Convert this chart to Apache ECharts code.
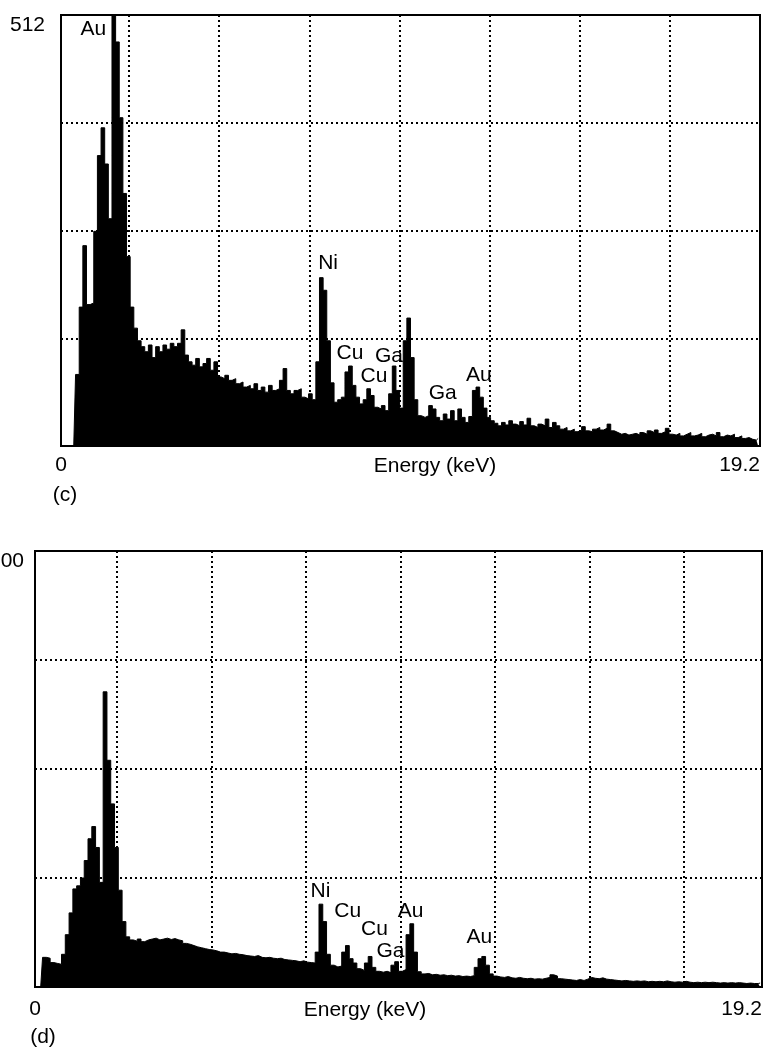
<!DOCTYPE html>
<html><head><meta charset="utf-8">
<script src="https://cdn.jsdelivr.net/npm/echarts@6/dist/echarts.min.js"></script>
<style>html,body{margin:0;padding:0;background:#fff}#c{width:770px;height:1047px}</style>
</head><body><div id="c"></div>
<script>
// ---- data ----
const BIN_KEV = 0.1;           // channel width of the spectra
const E_MAX = 19.2;            // full energy scale (keV)
const xTickLabels = ['0', '19.2'];
const xAxisTitle = 'Energy (keV)';
const panelTags = ['(c)', '(d)'];
const yMaxC = 512;
const yMaxD = 1000;

// counts per 0.1 keV channel, panel (c)
const countsC = [
  0,0,0,0,85,165,238,168,170,255,
  345,378,335,270,512,480,390,300,225,165,
  140,125,118,112,120,105,118,112,120,115,
  122,118,122,138,108,100,96,104,94,98,
  104,90,100,82,80,84,78,80,74,76,
  70,72,68,74,66,70,64,72,66,68,
  78,92,66,62,66,68,58,56,62,55,
  100,200,185,125,75,52,55,58,88,95,
  72,58,50,55,68,60,46,44,48,42,
  62,95,66,45,125,152,105,55,36,34,
  36,48,44,34,30,38,32,42,30,44,
  34,28,35,66,70,58,45,34,30,27,
  24,28,25,30,26,24,29,25,33,24,
  22,26,24,32,22,28,24,20,22,18,
  20,17,19,23,18,17,20,22,19,21,
  26,18,16,14,15,13,14,15,13,16,
  14,18,16,19,15,17,21,14,13,15,
  12,14,16,12,13,15,11,13,14,12,
  16,11,13,12,14,10,12,9,10,8,
  7,9
];

// counts per 0.1 keV channel, panel (d)
const countsD = [
  0,0,68,66,56,54,52,75,120,170,
  225,232,250,290,340,368,320,240,677,520,
  420,320,222,150,115,108,105,110,104,108,
  110,112,108,110,112,109,111,108,106,100,
  98,95,92,90,88,86,85,83,80,80,
  78,76,77,75,74,72,71,70,72,68,
  67,68,66,65,66,63,62,61,60,58,
  60,57,56,55,80,190,150,75,50,46,
  48,80,95,65,55,42,38,55,70,45,
  36,34,36,33,50,58,36,40,120,145,
  80,35,30,31,28,29,27,28,26,27,
  25,26,24,25,24,26,45,65,70,50,
  30,25,23,22,24,21,20,22,20,19,
  20,18,19,18,20,22,28,25,19,18,
  17,16,15,17,15,18,22,20,19,21,
  18,17,16,15,14,15,14,13,14,13,
  14,12,13,12,13,12,14,12,11,12,
  11,13,11,10,11,10,11,10,11,10,
  9,10,9,10,9,10,9,8,9,8,
  8,9
];

// peak labels: [text, energy keV, counts]
const peakLabelsC = [
  ['Au', 0.905, 494], ['Ni', 7.35, 217], ['Cu', 7.95, 110], ['Ga', 9.02, 106],
  ['Cu', 8.61, 82], ['Ga', 10.50, 62], ['Au', 11.49, 83]
];
const peakLabelsD = [
  ['Ni', 7.55, 218], ['Cu', 8.27, 172], ['Cu', 8.98, 131], ['Ga', 9.40, 80],
  ['Au', 9.93, 172], ['Au', 11.75, 112]
];

// ---- chart ----
const FONT = '"Liberation Sans", Arial, Helvetica, sans-serif';
const dotted = { color: '#000', width: 2, type: [2, 3] };
const toPairs = arr => arr.map((v, i) => [(i + 0.5) * BIN_KEV, v]);
const toLabels = arr => arr.map(([t, e, c]) => ({ name: t, value: [e, c] }));

function mainX(grid, margin) {
  return {
    gridIndex: grid, type: 'value', min: 0, max: E_MAX, interval: E_MAX,
    axisLine: { show: false }, axisTick: { show: false }, splitLine: { show: false },
    axisLabel: {
      margin: margin, fontSize: 21, color: '#000', fontFamily: FONT,
      alignMinLabel: 'center', alignMaxLabel: 'right',
      formatter: v => v === 0 ? xTickLabels[0] : (Math.abs(v - E_MAX) < 1e-6 ? xTickLabels[1] : '')
    }
  };
}
function gridX(grid, maxUnits) {
  return {
    gridIndex: grid, type: 'value', min: 0, max: maxUnits, interval: 1,
    axisLine: { show: false }, axisTick: { show: false }, axisLabel: { show: false },
    splitLine: { show: true, showMinLine: false, showMaxLine: false, lineStyle: dotted }
  };
}
function mainY(grid, yMax, margin) {
  return {
    gridIndex: grid, type: 'value', min: 0, max: yMax, interval: yMax / 4,
    axisLine: { show: false }, axisTick: { show: false },
    splitLine: { show: true, showMinLine: false, showMaxLine: false, lineStyle: dotted },
    axisLabel: {
      margin: margin, fontSize: 21, color: '#000', fontFamily: FONT, verticalAlign: 'top',
      formatter: v => v === yMax ? String(yMax) : ''
    }
  };
}
function spectrum(xi, yi, data) {
  return {
    type: 'line', xAxisIndex: xi, yAxisIndex: yi, data: toPairs(data),
    step: 'middle', symbol: 'none', clip: true,
    lineStyle: { color: '#000', width: 1 },
    areaStyle: { color: '#000', opacity: 1 }, z: 3
  };
}
function labels(xi, yi, data) {
  return {
    type: 'scatter', xAxisIndex: xi, yAxisIndex: yi, data: toLabels(data),
    symbolSize: 1, itemStyle: { color: '#fff', opacity: 0 }, z: 5, silent: true,
    label: { show: true, position: [0, 0], align: 'center', verticalAlign: 'middle',
      formatter: '{b}', fontSize: 21, color: '#000', opacity: 1, fontFamily: FONT }
  };
}
function txt(text, x, y) {
  return { type: 'text', x: x, y: y, z: 10,
    style: { text: text, font: '21px ' + FONT, fill: '#000', textAlign: 'center', textVerticalAlign: 'middle', verticalAlign: 'middle' } };
}
const gridBase = { outerBoundsMode: 'none', containLabel: false };

const chart = echarts.init(document.getElementById('c'));
chart.setOption({
  animation: false,
  backgroundColor: '#fff',
  grid: [
    Object.assign({ left: 61, top: 15, width: 699, height: 431, show: true, borderColor: '#000', borderWidth: 2, backgroundColor: 'transparent' }, gridBase),
    Object.assign({ left: 38.8, top: 15, width: 676.5, height: 431 }, gridBase),
    Object.assign({ left: 35, top: 551, width: 727, height: 436, show: true, borderColor: '#000', borderWidth: 2, backgroundColor: 'transparent' }, gridBase),
    Object.assign({ left: 22.5, top: 551, width: 708.75, height: 436 }, gridBase)
  ],
  xAxis: [ mainX(0, 9), gridX(1, 7.5), mainX(2, 12), gridX(3, 7.5) ],
  yAxis: [
    mainY(0, yMaxC, 16),
    { gridIndex: 1, type: 'value', min: 0, max: 1, show: false },
    mainY(2, yMaxD, 11),
    { gridIndex: 3, type: 'value', min: 0, max: 1, show: false }
  ],
  series: [
    spectrum(0, 0, countsC), labels(0, 0, peakLabelsC),
    spectrum(2, 2, countsD), labels(2, 2, peakLabelsD)
  ],
  graphic: [
    txt(xAxisTitle, 435, 466), txt(panelTags[0], 65, 495),
    txt(xAxisTitle, 365, 1010), txt(panelTags[1], 43, 1037)
  ]
});
</script></body></html>
